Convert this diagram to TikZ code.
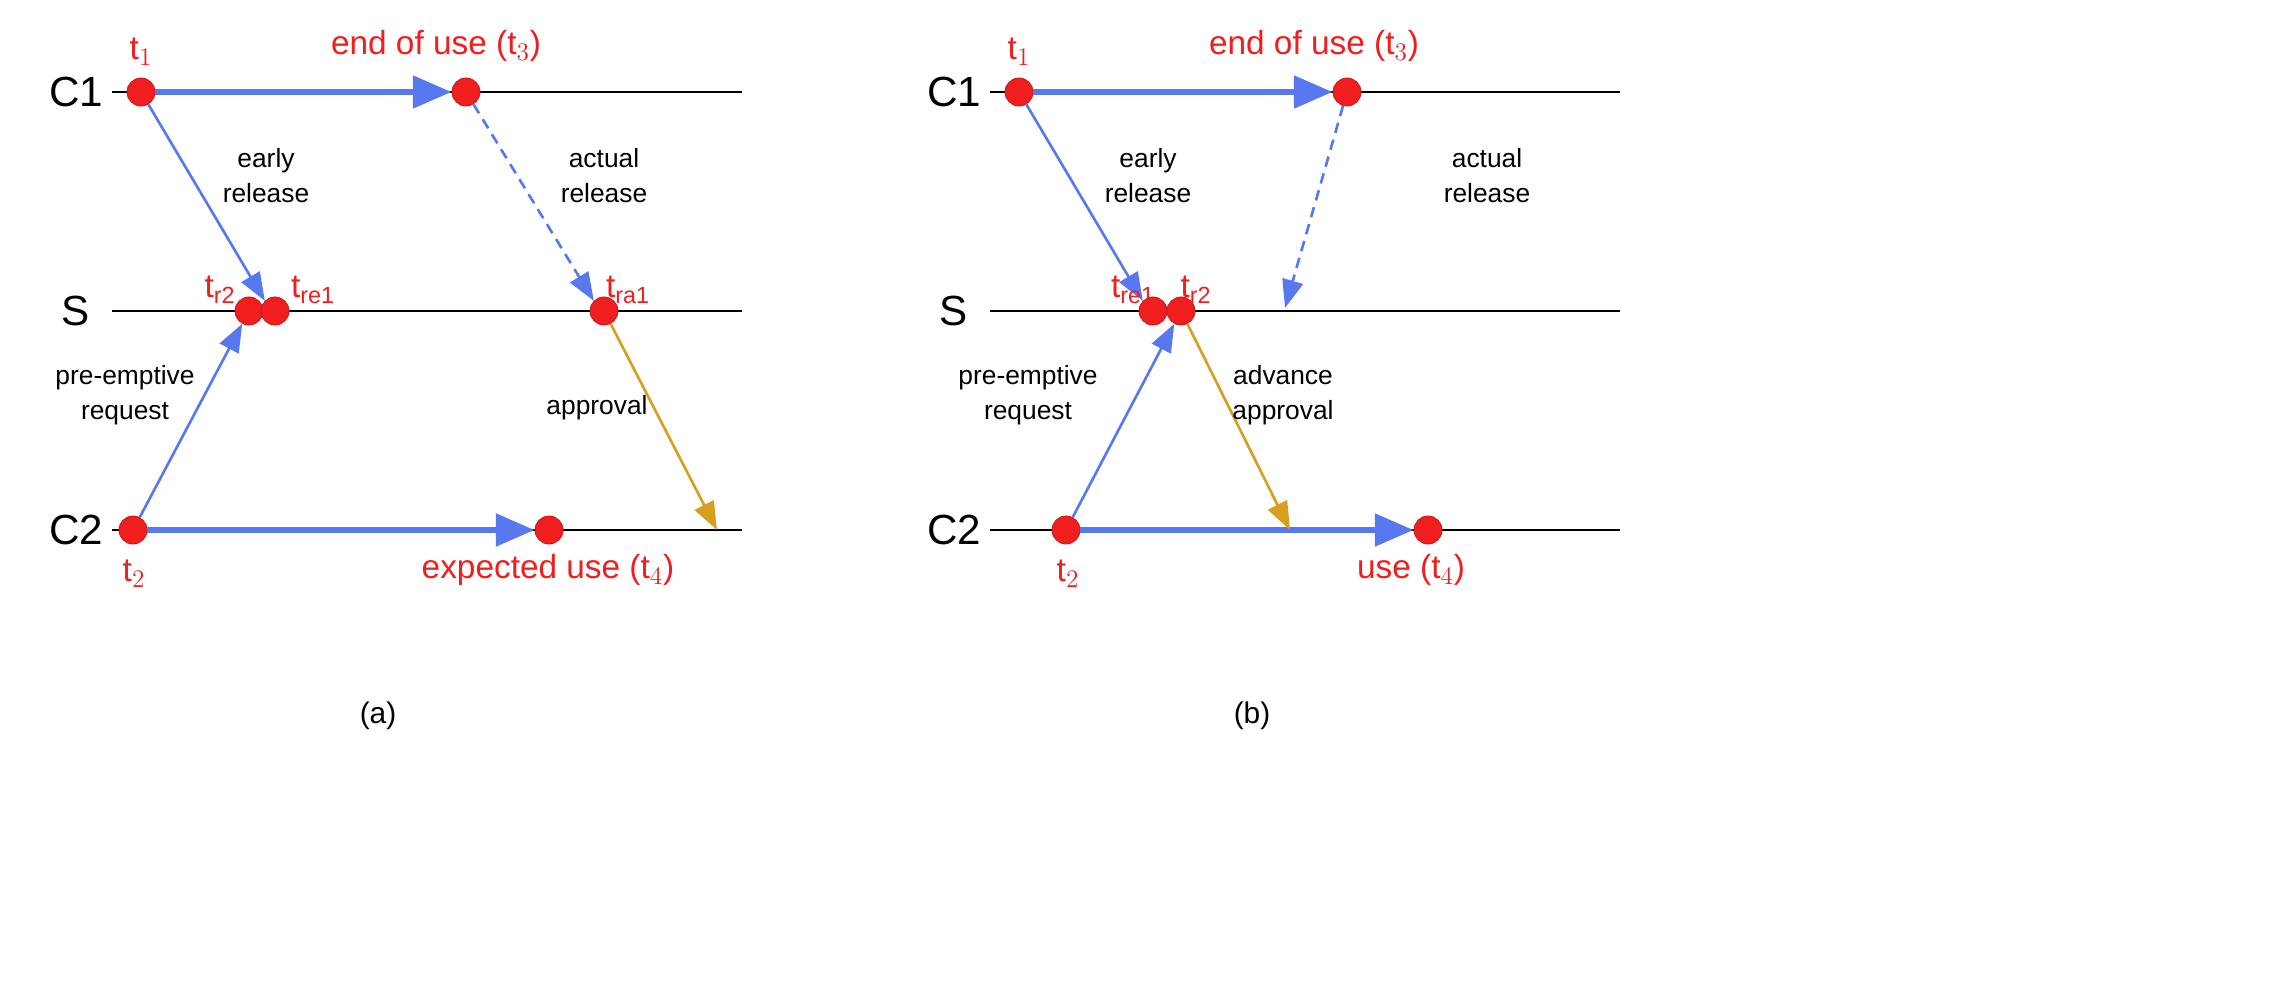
\documentclass[tikz,border=0pt]{standalone}
\usepackage{fontspec}
\setmainfont{Liberation Sans}
\usetikzlibrary{arrows.meta}
\definecolor{bl}{RGB}{88,120,240}
\definecolor{og}{RGB}{214,160,30}
\definecolor{rd}{RGB}{240,30,30}
\tikzset{
 tl/.style={line width=1.2pt},
 dot/.style={circle,fill=rd,draw=rd!80!black,line width=0.4pt,minimum size=16pt,inner sep=0pt},
 thick arr/.style={bl,line width=3.5pt,-{Triangle[length=22pt,width=18pt]}},
 msg/.style={bl,line width=1.5pt,-{Triangle[length=16pt,width=12pt]}},
 dmsg/.style={msg,dashed,dash pattern=on 6pt off 4pt},
 omsg/.style={og,line width=1.5pt,-{Triangle[length=16pt,width=12pt]}},
 proc/.style={font=\fontsize{24}{28}\selectfont},
 rl/.style={text=rd,font=\fontsize{19}{22}\selectfont},
 bk/.style={align=center,font=\fontsize{15}{20}\selectfont},
 subcap/.style={font=\fontsize{17}{20}\selectfont}
}
\begin{document}
\begin{tikzpicture}[x=0.02cm,y=-0.02cm]
\useasboundingbox (0,0) rectangle (2284,1004);
% ---------- panel a
\foreach \y/\n in {92/C1,311/S,530/C2}{
 \draw[tl] (112,\y) -- (742,\y);
 \node[proc] at (76,\y) {\n};}
\node[dot] (a1) at (141,92) {};
\node[dot] (a3) at (466,92) {};
\node[dot] (ar2) at (249,311) {};
\node[dot] (are) at (275,311) {};
\node[dot] (ara) at (604,311) {};
\node[dot] (a2) at (133,530) {};
\node[dot] (a4) at (549,530) {};
\coordinate (aend) at (717,530);
\draw[thick arr] (a1) -- (a3);
\draw[thick arr] (a2) -- (a4);
\draw[msg] (a1) -- (are.north west);
\draw[dmsg] (a3) -- (ara.north west);
\draw[msg] (a2) -- (ar2);
\draw[omsg] (ara) -- (aend);
\node[rl] at (141,52) {t$_1$};
\node[rl] at (436,46) {end of use (t$_3$)};
\node[rl] at (220,290) {t$_{\mathrm{r2}}$};
\node[rl] at (313,290) {t$_{\mathrm{re1}}$};
\node[rl] at (628,290) {t$_{\mathrm{ra1}}$};
\node[rl] at (134,574) {t$_2$};
\node[rl] at (548,570) {expected use (t$_4$)};
\node[bk] at (266,176) {early\\release};
\node[bk] at (604,176) {actual\\release};
\node[bk] at (125,395) {pre-emptive\\request};
\node[bk] at (597,408) {approval};
\node[subcap] at (378,716) {(a)};
% ---------- panel b
\foreach \y/\n in {92/C1,311/S,530/C2}{
 \draw[tl] (990,\y) -- (1620,\y);
 \node[proc] at (954,\y) {\n};}
\node[dot] (b1) at (1019,92) {};
\node[dot] (b3) at (1347,92) {};
\node[dot] (bre) at (1153,311) {};
\node[dot] (br2) at (1181,311) {};
\node[dot] (b2) at (1066,530) {};
\node[dot] (b4) at (1428,530) {};
\coordinate (bra) at (1285,308);
\coordinate (bend) at (1290,530);
\draw[thick arr] (b1) -- (b3);
\draw[thick arr] (b2) -- (b4);
\draw[msg] (b1) -- (bre.north west);
\draw[dmsg] (b3) -- (bra);
\draw[msg] (b2) -- (br2);
\draw[omsg] (br2) -- (bend);
\node[rl] at (1019,52) {t$_1$};
\node[rl] at (1314,46) {end of use (t$_3$)};
\node[rl] at (1133,290) {t$_{\mathrm{re1}}$};
\node[rl] at (1196,290) {t$_{\mathrm{r2}}$};
\node[rl] at (1068,574) {t$_2$};
\node[rl] at (1411,570) {use (t$_4$)};
\node[bk] at (1148,176) {early\\release};
\node[bk] at (1487,176) {actual\\release};
\node[bk] at (1028,395) {pre-emptive\\request};
\node[bk] at (1283,395) {advance\\approval};
\node[subcap] at (1252,716) {(b)};
\end{tikzpicture}
\end{document}
